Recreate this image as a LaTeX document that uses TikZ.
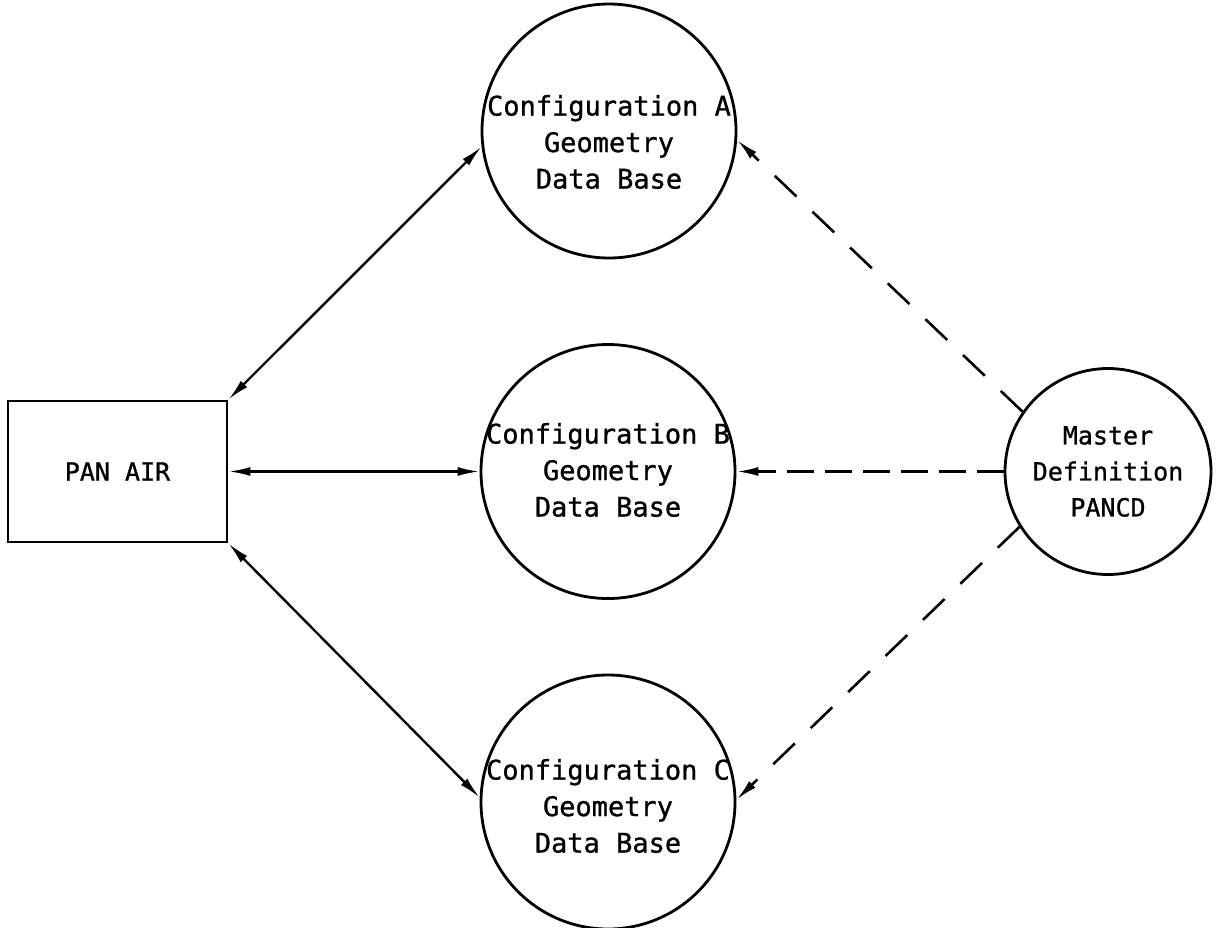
\documentclass[tikz,border=0pt]{standalone}
\usepackage{fontspec}
\setmonofont[FakeBold=1]{DejaVu Sans Mono}
\usetikzlibrary{arrows.meta}
\begin{document}
\begin{tikzpicture}[x=1pt,y=-1pt,
  lbl/.style={font=\ttfamily\fontsize{27}{36.5}\selectfont, align=center, inner sep=0pt},
  slbl/.style={font=\ttfamily\fontsize{25}{36}\selectfont, align=center, inner sep=0pt},
  box/.style={draw, line width=2.8pt, minimum width=219pt, minimum height=141pt, inner sep=0pt, slbl},
  db/.style={draw, circle, line width=2.8pt, minimum size=254pt, inner sep=0pt},
  master/.style={draw, circle, line width=2.8pt, minimum size=206pt, inner sep=0pt, slbl},
  link/.style={line width=2.4pt, {Latex[length=22pt,width=9pt]}-{Latex[length=22pt,width=9pt]}},
  feed/.style={line width=2.6pt, -{Latex[length=22pt,width=9pt]}, dash pattern=on 30pt off 22pt},
  feedh/.style={feed, dash pattern=on 27pt off 11pt}
]
\useasboundingbox (0,0) rectangle (1217,927);
\node[box] (pan) at (117.5,471.5) {PAN AIR};
\node[db] (A) at (609,131) {};
\node[db] (B) at (608,471.5) {};
\node[db] (C) at (608,802) {};
\node[lbl] (Atxt) at (609,142) {Configuration A\\Geometry\\Data Base};
\node[lbl] (Btxt) at (608,470) {Configuration B\\Geometry\\Data Base};
\node[lbl] (Ctxt) at (608,806) {Configuration C\\Geometry\\Data Base};
\node[master] (M) at (1108,471.5) {Master\\Definition\\PANCD};
\draw[link] (pan.north east) -- (A.187);
\draw[link] (pan.east) -- (B.west);
\draw[link] (pan.south east) -- (C.178);
\draw[feed] (M.145) -- (A.-4);
\draw[feedh] (M.west) -- (B.east);
\draw[feed] (M.212) -- (C.1);
\end{tikzpicture}
\end{document}
